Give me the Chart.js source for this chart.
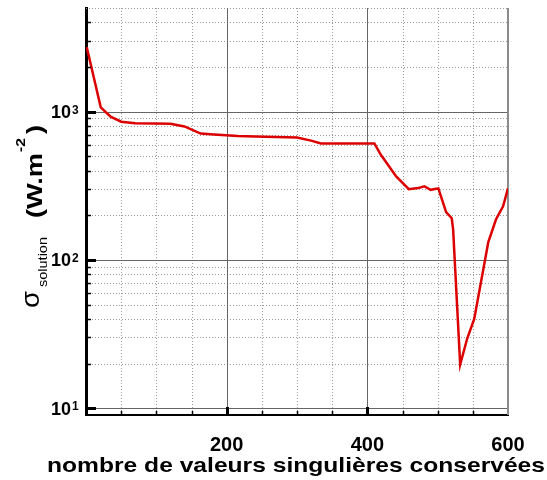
<!DOCTYPE html>
<html>
<head>
<meta charset="utf-8">
<script src="https://cdn.jsdelivr.net/npm/chart.js@4.4.0/dist/chart.umd.min.js"></script>
<style>
html, body { margin: 0; padding: 0; background: #fff; }
#wrap { width: 547px; height: 480px; }
</style>
</head>
<body>
<div id="wrap"><canvas id="sigmaChart"></canvas></div>
<script>
// number of singular values kept vs. sigma of the solution (W.m-2)
var nbValeurs = [1, 21, 35, 50, 70, 120, 140, 163, 182, 216, 240, 300, 320, 334, 410, 419, 441, 459, 472, 481, 490, 501, 512, 520, 522, 532, 542, 552, 572, 583, 593, 600];
var sigmaSolution = [2730, 1070, 925, 855, 835, 828, 795, 711, 700, 685, 680, 670, 638, 610, 610, 514, 366, 300, 305, 314, 297, 304, 210, 191, 160, 19.7, 29.5, 40, 132, 188, 230, 304];

var xLabels = [200, 400, 600];
var yDecades = [10, 100, 1000];
var yExponents = ['1', '2', '3'];

var FONT = '"Liberation Sans", Arial, Helvetica, sans-serif';

var points = [];
for (var i = 0; i < nbValeurs.length; i++) {
    points.push({x: nbValeurs[i], y: sigmaSolution[i]});
}

// text stretched horizontally so it spans the given width
function fillStretched(ctx, text, font, x, y, width) {
    ctx.font = font;
    var w = ctx.measureText(text).width;
    ctx.save();
    ctx.translate(x, y);
    ctx.scale(width / w, 1);
    ctx.fillText(text, 0, 0);
    ctx.restore();
}

// grid, tick marks and axis texts drawn by hand
var decor = {
    id: 'decor',
    beforeDatasetsDraw: function (chart) {
        var ctx = chart.ctx, a = chart.chartArea;
        var x = chart.scales.x, y = chart.scales.y;
        ctx.save();

        // dotted minor grid
        ctx.lineWidth = 1;
        ctx.strokeStyle = '#9a9a9a';
        ctx.setLineDash([1, 2]);
        ctx.beginPath();
        for (var d = 1; d <= 1000; d *= 10) {
            for (var m = 2; m <= 9; m++) {
                var v = d * m;
                if (v <= y.min || v > y.max) continue;
                var py = Math.round(y.getPixelForValue(v)) + 0.5;
                ctx.moveTo(a.left, py);
                ctx.lineTo(a.right, py);
            }
        }
        for (var vx = 50; vx < 600; vx += 50) {
            if (vx % 200 === 0) continue;
            var px = Math.round(x.getPixelForValue(vx)) + 0.5;
            ctx.moveTo(px, a.top);
            ctx.lineTo(px, a.bottom);
        }
        ctx.stroke();

        // solid major grid
        ctx.setLineDash([]);
        ctx.strokeStyle = '#666';
        ctx.beginPath();
        yDecades.forEach(function (v) {
            var py = Math.round(y.getPixelForValue(v)) + 0.5;
            ctx.moveTo(a.left, py);
            ctx.lineTo(a.right, py);
        });
        [200, 400].forEach(function (v) {
            var px = Math.round(x.getPixelForValue(v)) + 0.5;
            ctx.moveTo(px, a.top);
            ctx.lineTo(px, a.bottom);
        });
        ctx.stroke();

        // right frame
        ctx.strokeStyle = '#8c8c8c';
        ctx.lineWidth = 2;
        ctx.beginPath();
        ctx.moveTo(a.right, a.top);
        ctx.lineTo(a.right, a.bottom);
        ctx.stroke();
        ctx.restore();
    },
    afterDraw: function (chart) {
        var ctx = chart.ctx, a = chart.chartArea;
        var x = chart.scales.x, y = chart.scales.y;
        ctx.save();
        ctx.strokeStyle = '#000';

        // inner tick marks on the axes
        ctx.lineWidth = 1.5;
        ctx.beginPath();
        for (var d = 1; d <= 1000; d *= 10) {
            for (var m = 2; m <= 9; m++) {
                var v = d * m;
                if (v <= y.min || v >= y.max) continue;
                var py = Math.round(y.getPixelForValue(v)) + 0.5;
                ctx.moveTo(a.left, py);
                ctx.lineTo(a.left + 5, py);
            }
        }
        for (var vx = 50; vx < 600; vx += 50) {
            if (vx % 200 === 0) continue;
            var px = Math.round(x.getPixelForValue(vx)) + 0.5;
            ctx.moveTo(px, a.bottom);
            ctx.lineTo(px, a.bottom - 4);
        }
        ctx.stroke();
        ctx.lineWidth = 3;
        ctx.beginPath();
        yDecades.forEach(function (v) {
            var py = Math.round(y.getPixelForValue(v)) + 0.5;
            ctx.moveTo(a.left, py);
            ctx.lineTo(a.left + 10, py);
        });
        [200, 400].forEach(function (v) {
            var px = Math.round(x.getPixelForValue(v)) + 0.5;
            ctx.moveTo(px, a.bottom);
            ctx.lineTo(px, a.bottom - 8);
        });
        ctx.stroke();

        // y tick labels: 10 with exponent
        ctx.fillStyle = '#000';
        ctx.textBaseline = 'alphabetic';
        yDecades.forEach(function (v, i) {
            var py = y.getPixelForValue(v);
            ctx.font = 'bold 18px ' + FONT;
            ctx.textAlign = 'right';
            ctx.fillText('10', 71, py + 6.5);
            ctx.font = 'bold 12px ' + FONT;
            ctx.textAlign = 'left';
            ctx.fillText(yExponents[i], 72, py + 2);
        });

        // x axis title
        ctx.textAlign = 'left';
        fillStretched(ctx, 'nombre de valeurs singulières conservées', 'bold 21px ' + FONT, 47, 472, 498);

        // y axis title, rotated (reads bottom to top)
        ctx.translate(42, 308);
        ctx.rotate(-Math.PI / 2);
        fillStretched(ctx, 'σ', '25px ' + FONT, 0, -3, 17);
        fillStretched(ctx, 'solution', '13px ' + FONT, 21, 5, 50);
        fillStretched(ctx, '(W.m', 'bold 22px ' + FONT, 90, 0, 65);
        fillStretched(ctx, '-2', 'bold 13px ' + FONT, 156, -17, 14);
        fillStretched(ctx, ')', 'bold 22px ' + FONT, 174, 0, 9);
        ctx.restore();
    }
};

var chart = new Chart(document.getElementById('sigmaChart'), {
    type: 'line',
    data: {
        datasets: [{
            data: points,
            borderColor: '#dd0000',
            borderWidth: 2.5,
            pointRadius: 0,
            tension: 0,
            fill: false
        }]
    },
    options: {
        responsive: true,
        maintainAspectRatio: false,
        animation: false,
        events: [],
        layout: { padding: { left: 86, right: 39, top: 8, bottom: 0 } },
        plugins: { legend: { display: false }, tooltip: { enabled: false } },
        scales: {
            x: {
                type: 'linear',
                min: 0,
                max: 600,
                grid: { display: false, drawTicks: false },
                border: { display: true, color: '#000', width: 2 },
                ticks: {
                    stepSize: 50,
                    autoSkip: false,
                    maxRotation: 0,
                    padding: 18,
                    color: '#000',
                    font: { family: FONT, size: 20, weight: 'bold' },
                    callback: function (v) { return xLabels.indexOf(v) >= 0 ? String(v) : ''; }
                },
                afterFit: function (s) { s.height = 65; }
            },
            y: {
                type: 'logarithmic',
                min: 9,
                max: 5000,
                grid: { display: false, drawTicks: false },
                border: { display: true, color: '#000', width: 3 },
                ticks: { display: false },
                afterFit: function (s) { s.width = 0; }
            }
        }
    },
    plugins: [decor]
});
</script>
</body>
</html>
